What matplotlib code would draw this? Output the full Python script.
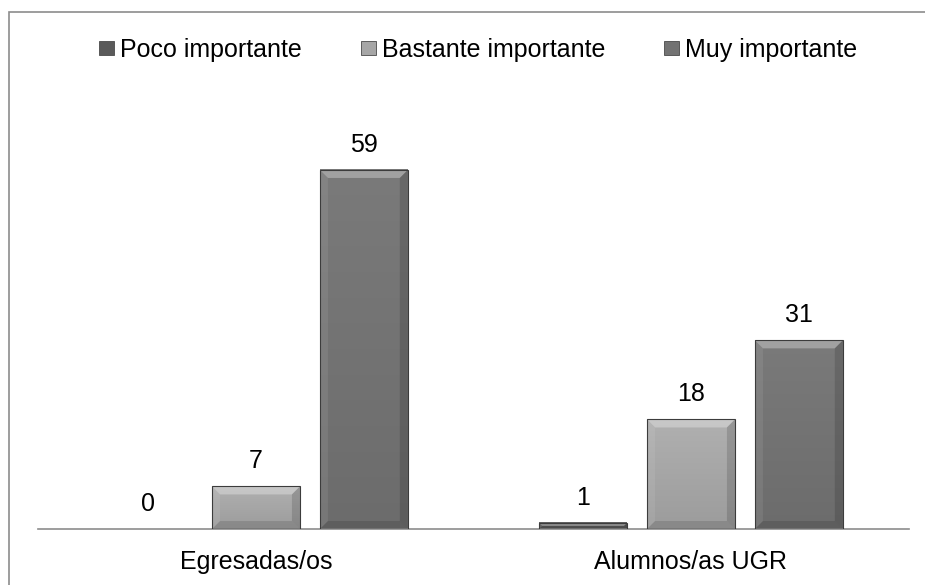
import numpy as np
import matplotlib
matplotlib.use('Agg')
from matplotlib import pyplot as plt
from matplotlib import colors as mcolors
from matplotlib.patches import Polygon, Rectangle, Patch

plt.rcParams['font.family'] = ['Liberation Sans', 'DejaVu Sans']

# datos
categorias = ['Egresadas/os', 'Alumnos/as UGR']
series = ['Poco importante', 'Bastante importante', 'Muy importante']
poco = [0, 1]
bastante = [7, 18]
muy = [59, 31]
valores = [poco, bastante, muy]
colores = ['#5a5a5a', '#a6a6a6', '#737373']

fs = 18
ancho = 0.202
paso = 0.248


def biselar(ax, barra, color):
    """Relleno degradado y bisel estilo Excel sobre una barra."""
    x0, y0 = barra.get_x(), barra.get_y()
    w, h = barra.get_width(), barra.get_height()
    if h <= 0:
        return
    x1 = x0 + w
    base = np.array(mcolors.to_rgb(color))
    t = np.linspace(0, 1, 60)[:, None]
    grad = np.clip(base * (0.94 + 0.12 * t), 0, 1)[:, None, :]
    ax.imshow(grad, extent=(x0, x1, y0, y0 + h), origin='lower',
              aspect='auto', interpolation='bilinear', zorder=2)
    p = ax.transData.transform([(0, 0), (1, 1)])
    sx, sy = p[1, 0] - p[0, 0], p[1, 1] - p[0, 1]
    b = min(8, w * sx / 2, h * sy / 2)
    bx, by = b / sx, b / sy
    top = y0 + h
    caras = [
        ([(x0, top), (x1, top), (x1 - bx, top - by), (x0 + bx, top - by)], 'white', 0.3),
        ([(x0, y0), (x0 + bx, y0 + by), (x0 + bx, top - by), (x0, top)], 'white', 0.08),
        ([(x1, y0), (x1, top), (x1 - bx, top - by), (x1 - bx, y0 + by)], 'black', 0.14),
        ([(x0, y0), (x1, y0), (x1 - bx, y0 + by), (x0 + bx, y0 + by)], 'black', 0.12),
    ]
    for pts, c, a in caras:
        ax.add_patch(Polygon(pts, closed=True, facecolor=c, alpha=a,
                             edgecolor='none', zorder=3))
    ax.add_patch(Rectangle((x0, y0), w, h, fill=False, edgecolor='#3c3c3c',
                           lw=0.8, zorder=4))


fig = plt.figure(figsize=(9.25, 5.85), dpi=100)
ax = fig.add_axes([38.5 / 925, 56 / 585, 870 / 925, 426 / 585])
ax.set_xlim(-0.5, 1.5)
ax.set_ylim(0, 70)

x = np.arange(len(categorias))
for i, (serie, vals, col) in enumerate(zip(series, valores, colores)):
    pos = x + (i - 1) * paso
    barras = ax.bar(pos, vals, ancho, color=col, zorder=2)
    for barra, v in zip(barras, vals):
        biselar(ax, barra, col)
        ax.annotate(str(v), (barra.get_x() + barra.get_width() / 2, v),
                    xytext=(0, 13), textcoords='offset points',
                    ha='center', va='baseline', fontsize=fs, color='black')

ax.set_xlim(-0.5, 1.5)
ax.set_ylim(0, 70)
ax.set_xticks(x)
ax.set_xticklabels(categorias, fontsize=fs)
ax.tick_params(axis='x', length=0, pad=15)
ax.set_yticks([])
for lado in ['top', 'right', 'left']:
    ax.spines[lado].set_visible(False)
ax.spines['bottom'].set_color('#8c8c8c')
ax.spines['bottom'].set_linewidth(1.2)

# leyenda
manejadores = [Patch(facecolor=c, edgecolor='#4a4a4a', lw=0.6) for c in colores]
fig.legend(manejadores, series, loc='center', ncol=3,
           bbox_to_anchor=(478 / 925, 1 - 50 / 585), frameon=False,
           fontsize=fs, handlelength=0.6, handleheight=0.52,
           handletextpad=0.25, columnspacing=2.35)

# marco del grafico
fig.add_artist(Rectangle((9 / 925, -0.1), 1.2, 1.1 - 12 / 585, fill=False,
                         edgecolor='#8c8c8c', lw=1.2,
                         transform=fig.transFigure, clip_on=False))

plt.savefig('out.png', dpi=100)
